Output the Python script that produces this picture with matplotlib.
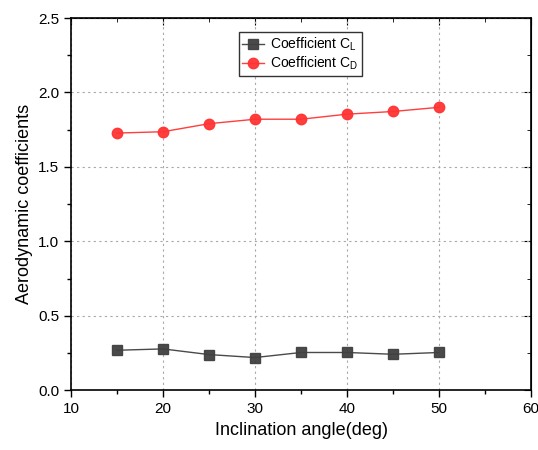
import matplotlib
matplotlib.use("Agg")
import matplotlib.pyplot as plt
from matplotlib.ticker import MultipleLocator

plt.rcParams['font.family'] = ['Liberation Sans', 'DejaVu Sans']
plt.rcParams['mathtext.fontset'] = 'custom'
plt.rcParams['mathtext.rm'] = 'Liberation Sans'

# data
angle = [15, 20, 25, 30, 35, 40, 45, 50]
cl = [0.268, 0.277, 0.239, 0.219, 0.253, 0.253, 0.241, 0.253]
cd = [1.727, 1.736, 1.79, 1.82, 1.82, 1.854, 1.872, 1.90]

fig = plt.figure(figsize=(5.38, 4.5), dpi=100)
ax = fig.add_axes([0.132, 0.133, 0.855, 0.827])

ax.plot(angle, cl, color='#404040', lw=1, marker='s', ms=7, alpha=0.95,
        label=r'Coefficient C$\mathregular{_L}$')
ax.plot(angle, cd, color='#ff3333', lw=1, marker='o', ms=7.5, alpha=0.95,
        label=r'Coefficient C$\mathregular{_D}$')

ax.set_xlim(10, 60)
ax.set_ylim(0, 2.5)
ax.xaxis.set_major_locator(MultipleLocator(10))
ax.xaxis.set_minor_locator(MultipleLocator(5))
ax.yaxis.set_major_locator(MultipleLocator(0.5))
ax.yaxis.set_minor_locator(MultipleLocator(0.25))
ax.grid(True, which='major', ls=(0, (2, 3)), color='#a8a8a8', lw=0.8)

ax.tick_params(which='both', direction='out', labelsize=11, width=1)
ax.tick_params(which='major', length=5)
ax.tick_params(which='minor', length=3)
secx = ax.secondary_xaxis('top')
secx.xaxis.set_major_locator(MultipleLocator(10))
secx.xaxis.set_minor_locator(MultipleLocator(5))
secx.tick_params(which='both', direction='in', labeltop=False)
secx.tick_params(which='major', length=5)
secx.tick_params(which='minor', length=3)
secy = ax.secondary_yaxis('right')
secy.yaxis.set_major_locator(MultipleLocator(0.5))
secy.yaxis.set_minor_locator(MultipleLocator(0.25))
secy.tick_params(which='both', direction='in', labelright=False)
secy.tick_params(which='major', length=5)
secy.tick_params(which='minor', length=3)
for sp in ax.spines.values():
    sp.set_linewidth(1.2)

ax.set_xlabel('Inclination angle(deg)', fontsize=13)
ax.set_ylabel('Aerodynamic coefficients', fontsize=13)

leg = ax.legend(loc='upper center', bbox_to_anchor=(0.498, 0.962), fontsize=10,
                fancybox=False, edgecolor='#333333', framealpha=1,
                handlelength=1.6, handletextpad=0.4, borderpad=0.25,
                labelspacing=0.15, borderaxespad=0)
leg.get_frame().set_linewidth(1)

plt.savefig('out.png', dpi=100)
